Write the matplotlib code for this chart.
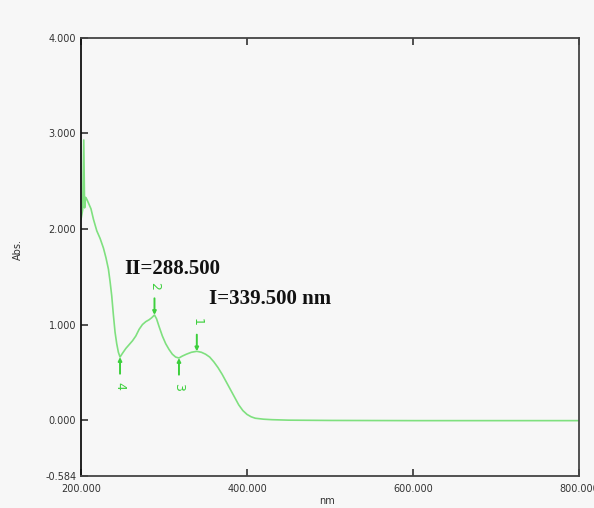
import numpy as np
import matplotlib.pyplot as plt

# UV spectrum
wavelength = [200, 202, 203.3, 204.3, 205.5, 207, 209, 212, 215, 219, 223, 227, 230, 233,
              235, 237, 239, 241, 243, 245, 247, 250, 254, 258, 262, 266, 270, 274, 278,
              282, 285, 288.5, 291, 294, 298, 302, 306, 310, 314, 318, 322, 327, 333,
              339.5, 345, 350, 355, 360, 365, 370, 375, 380, 385, 390, 395, 400, 405,
              410, 420, 430, 450, 500, 600, 700, 800]
absorb = [2.1, 2.2, 2.93, 2.22, 2.33, 2.31, 2.27, 2.21, 2.10, 1.98, 1.90, 1.80, 1.70, 1.58,
          1.45, 1.30, 1.10, 0.92, 0.80, 0.71, 0.66, 0.70, 0.75, 0.79, 0.83, 0.88, 0.95, 1.00,
          1.03, 1.05, 1.07, 1.10, 1.06, 0.98, 0.88, 0.80, 0.74, 0.69, 0.66, 0.65, 0.67, 0.69,
          0.71, 0.72, 0.71, 0.69, 0.66, 0.61, 0.55, 0.48, 0.40, 0.32, 0.24, 0.16, 0.10, 0.06,
          0.035, 0.02, 0.01, 0.005, 0.0, -0.003, -0.005, -0.005, -0.005]

peak_labels = ['1', '2', '3', '4']
peak_wl = [339.5, 288.5, 318, 247]
peak_up = [True, True, False, False]

yticks = [4.0, 3.0, 2.0, 1.0, 0.0, -0.584]
xticks = [200, 400, 600, 800]

bg = '#f7f7f7'
fig = plt.figure(figsize=(5.94, 5.08), dpi=100, facecolor=bg)
ax = fig.add_axes([0.1364, 0.063, 0.8384, 0.8628], facecolor=bg)

ax.plot(wavelength, absorb, color='#7fe07f', lw=1.2)

mark = '#3ccf3c'
for lab, w, up in zip(peak_labels, peak_wl, peak_up):
    yv = np.interp(w, wavelength, absorb)
    d = 1 if up else -1
    ax.annotate('', xy=(w, yv), xytext=(0, 12 * d), textcoords='offset points',
                arrowprops=dict(arrowstyle='-|>', color=mark, lw=1.4, mutation_scale=5,
                                shrinkA=0, shrinkB=0))
    ax.annotate(lab, xy=(w, yv), xytext=(0, 21 * d), textcoords='offset points',
                rotation=-90, ha='center', va='center', color=mark, fontsize=9)

ax.text(309.5, 1.58, 'II=288.500', fontsize=15, fontweight='bold',
        family='Liberation Serif', ha='center', va='center', color='#111111')
ax.text(428, 1.27, 'I=339.500 nm', fontsize=15, fontweight='bold',
        family='Liberation Serif', ha='center', va='center', color='#111111')

ax.set_xlim(200, 800)
ax.set_ylim(-0.584, 4.0)
ax.set_yticks(yticks)
ax.set_yticklabels(['%.3f' % v for v in yticks])
ax.set_xticks(xticks)
ax.set_xticklabels(['%.3f' % v for v in xticks])
ax.tick_params(direction='in', length=5, width=1.2, colors='#333333', labelsize=7,
               top=True, labeltop=False)
ax.tick_params(axis='x', pad=6)
for s in ax.spines.values():
    s.set_color('#444444')
    s.set_linewidth(1.3)
ax.spines['left'].set_color('#111111')

fig.text(18 / 594, 1 - 250 / 508, 'Abs.', rotation=90, fontsize=7, ha='center',
         va='center', color='#333333')
fig.text(327 / 594, 1 - 501 / 508, 'nm', fontsize=7, ha='center', va='center',
         color='#333333')

fig.savefig('out.png', dpi=100, facecolor=bg)
